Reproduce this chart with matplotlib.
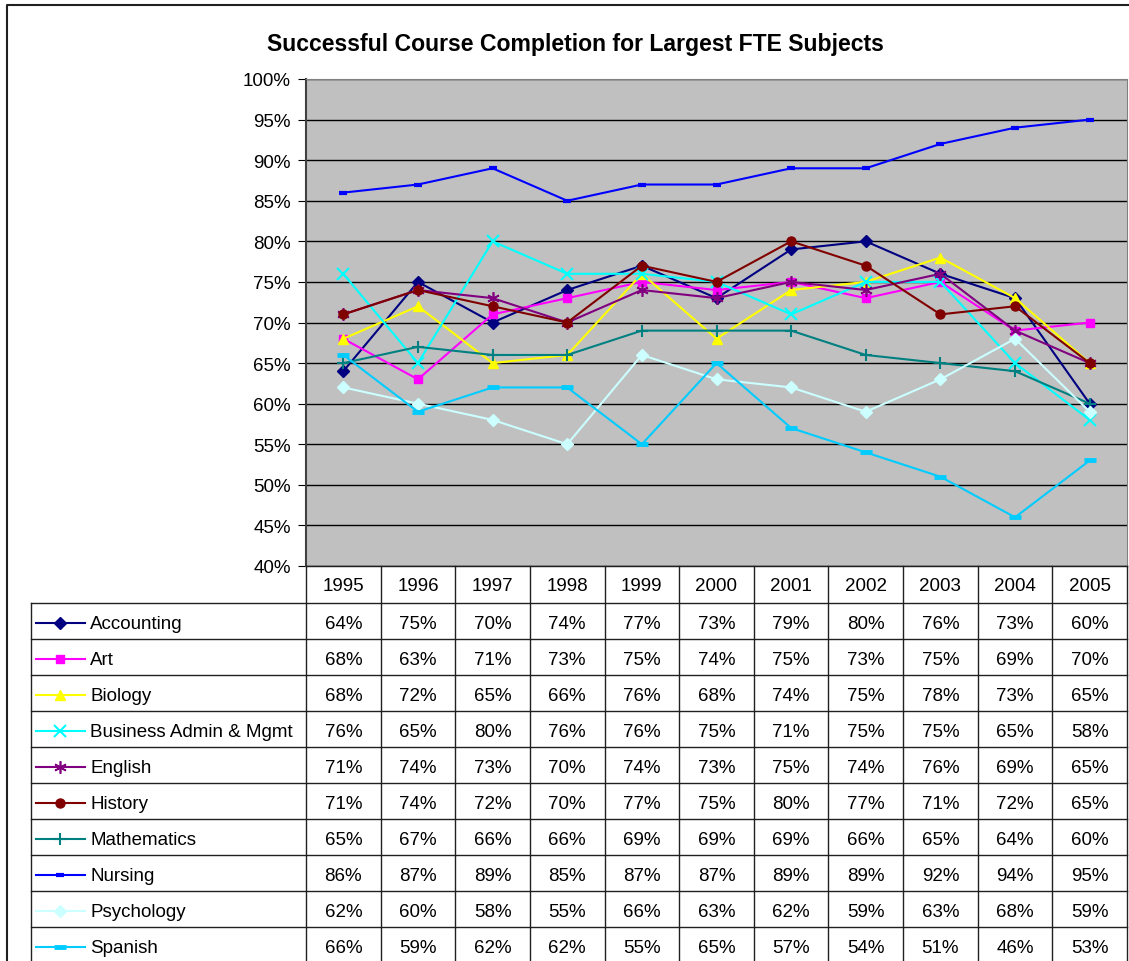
import matplotlib
matplotlib.use('Agg')
import matplotlib.pyplot as plt
from matplotlib.ticker import FuncFormatter

plt.rcParams['font.family'] = ['Liberation Sans', 'DejaVu Sans']

# Datos de la tabla
years = ['1995', '1996', '1997', '1998', '1999', '2000', '2001', '2002', '2003', '2004', '2005']
subjects = ['Accounting', 'Art', 'Biology', 'Business Admin & Mgmt', 'English',
            'History', 'Mathematics', 'Nursing', 'Psychology', 'Spanish']
accounting = [64, 75, 70, 74, 77, 73, 79, 80, 76, 73, 60]
art = [68, 63, 71, 73, 75, 74, 75, 73, 75, 69, 70]
biology = [68, 72, 65, 66, 76, 68, 74, 75, 78, 73, 65]
business = [76, 65, 80, 76, 76, 75, 71, 75, 75, 65, 58]
english = [71, 74, 73, 70, 74, 73, 75, 74, 76, 69, 65]
history = [71, 74, 72, 70, 77, 75, 80, 77, 71, 72, 65]
mathematics = [65, 67, 66, 66, 69, 69, 69, 66, 65, 64, 60]
nursing = [86, 87, 89, 85, 87, 87, 89, 89, 92, 94, 95]
psychology = [62, 60, 58, 55, 66, 63, 62, 59, 63, 68, 59]
spanish = [66, 59, 62, 62, 55, 65, 57, 54, 51, 46, 53]
series = [accounting, art, biology, business, english,
          history, mathematics, nursing, psychology, spanish]

# Estilos de cada serie
colors = ['#000080', '#FF00FF', '#FFFF00', '#00FFFF', '#800080',
          '#800000', '#008080', '#0000FF', '#CCFFFF', '#00CCFF']
markers = ['D', 's', '^', 'x', (6, 2, 0), 'o', '+', '_', 'D', '_']
msizes = [6, 6, 7, 8, 9, 6.5, 9, 6, 6, 9]
mews = [1, 1, 1, 1.5, 1.2, 1, 1.5, 3, 1, 3.5]

W, H = 1129, 962
fig = plt.figure(figsize=(W / 100, H / 100), dpi=100)
fs = 13.5

# Área del gráfico (en píxeles)
px_l, px_r, px_t, px_b = 306, 1127, 80, 567
ax = fig.add_axes([px_l / W, 1 - px_b / H, (px_r - px_l) / W, (px_b - px_t) / H])
ax.set_facecolor('#C0C0C0')
x = list(range(len(years)))
for vals, c, m, ms, mew in zip(series, colors, markers, msizes, mews):
    ax.plot(x, [v / 100 for v in vals], color=c, lw=1.5, marker=m, ms=ms,
            mew=mew, mfc=c, mec=c, zorder=3)
ax.set_xlim(-0.5, len(years) - 0.5)
ax.set_ylim(0.40, 1.00)
ax.set_yticks([0.40 + 0.05 * i for i in range(13)])
ax.yaxis.set_major_formatter(FuncFormatter(lambda v, p: f'{v * 100:.0f}%'))
ax.tick_params(axis='y', labelsize=fs, length=6, direction='out', pad=5)
ax.set_xticks([])
ax.grid(axis='y', color='black', lw=1, zorder=1)
for s in ['top', 'right']:
    ax.spines[s].set_color('#808080')
ax.spines['left'].set_color('#404040')
ax.spines['left'].set_linewidth(1.5)
ax.spines['bottom'].set_color('#808080')
ax.set_axisbelow(True)

# Capa en píxeles para la tabla y el marco
ov = fig.add_axes([0, 0, 1, 1], facecolor='none')
ov.set_xlim(0, W)
ov.set_ylim(H, 0)
ov.axis('off')

# Marco exterior
ov.plot([7, 7, W], [H, 6, 6], color='#202020', lw=1.5)

fig.text(575 / W, 1 - 45 / H, 'Successful Course Completion for Largest FTE Subjects',
         ha='center', va='center', fontsize=16.6, fontweight='bold')

# Tabla de datos
col_w = (px_r - px_l) / len(years)
row_h = 36
head_b = px_b + 37
tab_l = 31
lc = '#202020'
# fila de encabezado
for i, yr in enumerate(years):
    ov.text(px_l + (i + 0.5) * col_w, (px_b + head_b) / 2 + 1, yr,
            ha='center', va='center', fontsize=fs)
for i in range(len(years) + 1):
    ov.plot([px_l + i * col_w] * 2, [px_b, H], color=lc, lw=1)
ov.plot([px_l, px_r], [px_b, px_b], color=lc, lw=1)
ov.plot([tab_l, px_r], [head_b, head_b], color=lc, lw=1)
ov.plot([tab_l, tab_l], [head_b, H], color=lc, lw=1)
for r, (name, vals) in enumerate(zip(subjects, series)):
    top = head_b + r * row_h
    yc = top + row_h / 2 + 3
    ov.plot([tab_l, px_r], [top + row_h] * 2, color=lc, lw=1)
    ov.plot([36, 85], [yc - 1, yc - 1], color=colors[r], lw=1.5)
    ov.plot([60], [yc - 1], color=colors[r], marker=markers[r], ms=msizes[r],
            mew=mews[r], mfc=colors[r], mec=colors[r], lw=0)
    ov.text(90, yc, name, ha='left', va='center', fontsize=fs)
    for i, v in enumerate(vals):
        ov.text(px_l + (i + 0.5) * col_w, yc, f'{v}%', ha='center', va='center', fontsize=fs)

fig.savefig('out.png', dpi=100)
